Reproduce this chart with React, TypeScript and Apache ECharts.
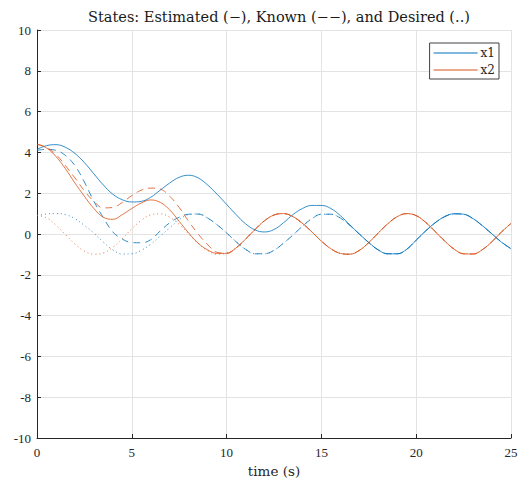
import React, { useEffect, useRef } from "react";
import * as echarts from "echarts";

const time = [0, 0.5, 1, 1.5, 2, 2.5, 3, 3.5, 4, 4.5, 5, 5.5, 6, 6.5, 7, 7.5, 8, 8.5, 9, 9.5, 10, 10.5, 11, 11.5, 12, 12.5, 13, 13.5, 14, 14.5, 15, 15.5, 16, 16.5, 17, 17.5, 18, 18.5, 19, 19.5, 20, 20.5, 21, 21.5, 22, 22.5, 23, 23.5, 24, 24.5, 25];

// Estimated (solid)
const x1Est = [4.15, 4.33, 4.38, 4.25, 3.95, 3.5, 2.95, 2.4, 1.95, 1.68, 1.57, 1.6, 1.8, 2.15, 2.5, 2.78, 2.88, 2.75, 2.4, 1.95, 1.45, 0.95, 0.5, 0.2, 0.1, 0.22, 0.55, 0.95, 1.25, 1.4, 1.4, 1.25, 0.9, 0.45, 0.0, -0.42, -0.78, -0.97, -0.97, -0.75, -0.3, 0.15, 0.55, 0.85, 0.99, 0.97, 0.75, 0.4, 0.0, -0.4, -0.72];
const x2Est = [4.4, 4.22, 3.8, 3.2, 2.5, 1.85, 1.25, 0.82, 0.72, 0.95, 1.25, 1.52, 1.67, 1.55, 1.18, 0.62, 0.05, -0.45, -0.78, -0.95, -0.95, -0.68, -0.25, 0.22, 0.65, 0.93, 1.0, 0.85, 0.52, 0.1, -0.35, -0.72, -0.95, -0.99, -0.8, -0.42, 0.05, 0.5, 0.85, 1.0, 0.9, 0.57, 0.12, -0.34, -0.74, -0.97, -0.98, -0.76, -0.37, 0.1, 0.52];

// Known (dashed)
const x1Known = [4.1, 4.15, 4.1, 3.85, 3.35, 2.55, 1.6, 0.8, 0.1, -0.25, -0.42, -0.43, -0.28, 0.15, 0.55, 0.82, 0.97, 0.98, 0.78, 0.45, 0.05, -0.38, -0.75, -0.97, -0.97, -0.8, -0.45, -0.05, 0.38, 0.75, 0.97, 0.97, 0.78, 0.42, 0.0, -0.42, -0.78, -0.97, -0.97, -0.75, -0.3, 0.15, 0.55, 0.85, 0.99, 0.97, 0.75, 0.4, 0.0, -0.4, -0.72];
const x2Known = [4.4, 4.25, 3.9, 3.35, 2.75, 2.12, 1.6, 1.28, 1.3, 1.55, 1.88, 2.15, 2.25, 2.2, 1.85, 1.3, 0.62, 0.0, -0.52, -0.9, -0.94, -0.68, -0.25, 0.22, 0.65, 0.93, 1.0, 0.85, 0.52, 0.1, -0.35, -0.72, -0.95, -0.99, -0.8, -0.42, 0.05, 0.5, 0.85, 1.0, 0.9, 0.57, 0.12, -0.34, -0.74, -0.97, -0.98, -0.76, -0.37, 0.1, 0.52];

// Desired (dotted)
const x1Des = [0.9, 0.98, 1.0, 0.95, 0.75, 0.42, 0.05, -0.4, -0.78, -0.98, -0.97, -0.8, -0.5, -0.1, 0.3, 0.7, 0.95, 0.98, 0.78, 0.45, 0.05, -0.38, -0.75, -0.97, -0.97, -0.8, -0.45, -0.05, 0.38, 0.75, 0.97, 0.97, 0.78, 0.42, 0.0, -0.42, -0.78, -0.97, -0.97, -0.75, -0.3, 0.15, 0.55, 0.85, 0.99, 0.97, 0.75, 0.4, 0.0, -0.4, -0.72];
const x2Des = [0.9, 0.8, 0.43, -0.03, -0.49, -0.84, -0.99, -0.93, -0.65, -0.22, 0.25, 0.67, 0.94, 0.99, 0.82, 0.47, 0.0, -0.46, -0.82, -0.99, -0.94, -0.68, -0.25, 0.22, 0.65, 0.93, 1.0, 0.85, 0.52, 0.1, -0.35, -0.72, -0.95, -0.99, -0.8, -0.42, 0.05, 0.5, 0.85, 1.0, 0.9, 0.57, 0.12, -0.34, -0.74, -0.97, -0.98, -0.76, -0.37, 0.1, 0.52];

const titleText = "States: Estimated (\u2212), Known (\u2212\u2212), and Desired (..)";
const xName = "time (s)";
const legendNames = ["x1", "x2"];

const BLUE = "#0072BD";
const ORANGE = "#D95319";
const FONT = "'Liberation Serif', serif";
const WFONT = "'DejaVu Serif', serif";
const TXT = "#262626";

function pairs(ys: number[]) {
  return time.map((t, i) => [t, ys[i]]);
}

export default function App() {
  const ref = useRef<HTMLDivElement>(null);
  useEffect(() => {
    if (!ref.current) return;
    const chart = echarts.init(ref.current, null, { renderer: "svg" });
    const mk = (name: string, ys: number[], color: string, type: any, z: number) => ({
      name,
      type: "line",
      data: pairs(ys),
      symbol: "none",
      smooth: 0.4,
      z,
      lineStyle: { color, width: 0.8, type },
      itemStyle: { color },
    });
    chart.setOption({
      animation: false,
      backgroundColor: "#ffffff",
      title: {
        text: titleText,
        left: 274,
        textAlign: "center",
        top: 4,
        textStyle: { fontFamily: WFONT, fontSize: 14.5, fontWeight: "normal", color: "#1a1a1a" },
      },
      legend: {
        data: legendNames,
        orient: "vertical",
        right: 33,
        top: 43,
        padding: [4, 4, 3, 4],
        itemGap: 5,
        itemWidth: 44,
        itemHeight: 1,
        icon: "rect",
        backgroundColor: "#fff",
        borderColor: "#404040",
        borderWidth: 1,
        borderRadius: 0,
        textStyle: { fontFamily: WFONT, fontSize: 12, color: TXT, padding: [0, 0, 0, -2] },
      },
      grid: { left: 37, top: 30, width: 474, height: 408, containLabel: false },
      xAxis: {
        type: "value",
        min: 0,
        max: 25,
        interval: 5,
        name: xName,
        nameLocation: "middle",
        nameGap: 24,
        nameTextStyle: { fontFamily: WFONT, fontSize: 13.5, color: TXT },
        axisLine: { show: true, onZero: false, lineStyle: { color: TXT, width: 1 } },
        axisTick: { show: true, inside: true, length: 4, lineStyle: { color: TXT } },
        axisLabel: { fontFamily: FONT, fontSize: 13, color: TXT, margin: 8 },
        splitLine: { show: true, lineStyle: { color: "#e3e3e3", width: 1 } },
      },
      yAxis: {
        type: "value",
        min: -10,
        max: 10,
        interval: 2,
        axisLine: { show: true, onZero: false, lineStyle: { color: TXT, width: 1 } },
        axisTick: { show: true, inside: true, length: 4, lineStyle: { color: TXT } },
        axisLabel: { fontFamily: FONT, fontSize: 13, color: TXT, margin: 6 },
        splitLine: { show: true, lineStyle: { color: "#e3e3e3", width: 1 } },
      },
      series: [
        mk("x1", x1Est, BLUE, "solid", 6),
        mk("x2", x2Est, ORANGE, "solid", 6),
        mk("x1 known", x1Known, BLUE, [7, 5], 5),
        mk("x2 known", x2Known, ORANGE, [7, 5], 5),
        mk("x1 desired", x1Des, BLUE, [1, 3], 4),
        mk("x2 desired", x2Des, ORANGE, [1, 3], 4),
      ],
    });
    return () => chart.dispose();
  }, []);
  return (
    <div
      ref={ref}
      style={{ position: "fixed", left: 0, top: 0, width: 532, height: 485, background: "#fff" }}
    />
  );
}
